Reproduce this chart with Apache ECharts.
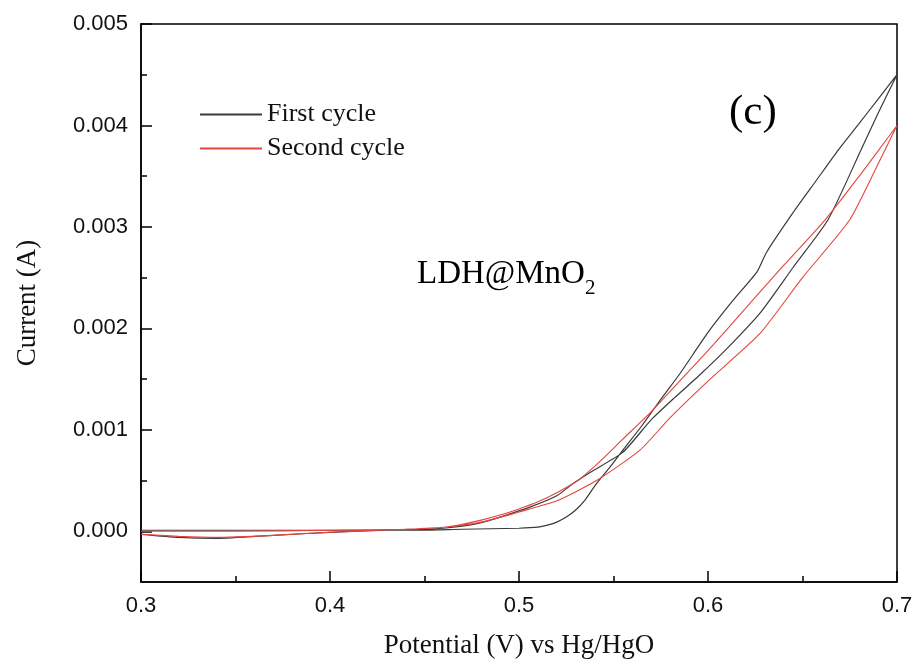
<!DOCTYPE html>
<html>
<head>
<meta charset="utf-8">
<script src="https://cdn.jsdelivr.net/npm/echarts@6/dist/echarts.min.js"></script>
<style>
  html, body { margin: 0; padding: 0; background: #fff; }
  #chart { width: 912px; height: 661px; }
</style>
</head>
<body>
<div id="chart"></div>
<script>
// first cycle: forward sweep then reverse sweep
const firstFwdV = [0.30, 0.33, 0.36, 0.40, 0.44, 0.47, 0.50, 0.51, 0.515, 0.52, 0.525, 0.53, 0.535, 0.541, 0.548, 0.555, 0.565, 0.575, 0.585, 0.60, 0.613, 0.626, 0.631, 0.645, 0.657, 0.669, 0.68, 0.69, 0.70]
const firstFwdI = [0.00001, 0.00001, 0.00001, 0.00001, 0.00001, 0.00002, 0.00003, 0.00004, 0.00006, 0.00009, 0.00014, 0.00021, 0.00031, 0.00047, 0.00063, 0.0008, 0.00104, 0.0013, 0.00155, 0.00196, 0.00227, 0.00256, 0.00275, 0.00314, 0.00345, 0.00376, 0.00402, 0.00426, 0.0045]
const firstRevV = [0.70, 0.69, 0.681, 0.6635, 0.645, 0.6275, 0.61, 0.595, 0.5825, 0.57, 0.555, 0.5376, 0.5286, 0.52, 0.506, 0.49, 0.479, 0.47, 0.46, 0.45, 0.43, 0.40, 0.37, 0.34, 0.32, 0.30]
const firstRevI = [0.0045, 0.00412, 0.00376, 0.00307, 0.0026, 0.00215, 0.0018, 0.00153, 0.00132, 0.0011, 0.00078, 0.00058, 0.00047, 0.00035, 0.00024, 0.00014, 0.00008, 0.00005, 0.00003, 0.00002, 0.00001, -0.00001, -0.00004, -0.00007, -0.00006, -0.00003]

// second cycle
const secondFwdV = [0.30, 0.35, 0.40, 0.44, 0.46, 0.47, 0.48, 0.49, 0.50, 0.51, 0.52, 0.5312, 0.54, 0.548, 0.5545, 0.57, 0.585, 0.60, 0.6238, 0.64, 0.662, 0.68, 0.69, 0.70]
const secondFwdI = [0.0, 0.0, 0.00001, 0.00002, 0.00004, 0.00007, 0.00011, 0.00016, 0.00022, 0.00029, 0.00038, 0.0005, 0.00064, 0.00078, 0.0009, 0.00118, 0.00148, 0.00178, 0.00228, 0.00262, 0.00307, 0.0035, 0.00375, 0.004]
const secondRevV = [0.70, 0.69, 0.675, 0.65, 0.6275, 0.60, 0.58, 0.564, 0.541, 0.52, 0.50, 0.48, 0.46, 0.44, 0.40, 0.37, 0.34, 0.32, 0.30]
const secondRevI = [0.004, 0.00362, 0.00307, 0.0025, 0.00195, 0.00148, 0.00112, 0.0008, 0.0005, 0.0003, 0.00019, 0.00009, 0.00004, 0.00002, -0.00001, -0.00004, -0.00006, -0.00005, -0.00003]

const yTickValues = [0, 0.001, 0.002, 0.003, 0.004, 0.005]
const yMinorValues = [0.0005, 0.0015, 0.0025, 0.0035, 0.0045]

const serif = '"Liberation Serif", "DejaVu Serif", serif'
const sans = '"Liberation Sans", Arial, sans-serif'

function pairs(v, i) {
  return v.map((x, k) => [x, i[k]])
}

const chart = echarts.init(document.getElementById('chart'))

chart.setOption({
  animation: false,
  backgroundColor: '#fff',
  grid: {
    left: 141, right: 15, top: 24, bottom: 79,
    outerBoundsMode: 'none',
    show: true, borderColor: '#000', borderWidth: 1.5
  },
  legend: {
    orient: 'vertical',
    left: 195, top: 96,
    icon: 'rect',
    itemWidth: 62, itemHeight: 2, itemGap: 7,
    textStyle: { fontFamily: serif, fontSize: 26, lineHeight: 27, color: '#111' },
    data: ['First cycle', 'Second cycle']
  },
  xAxis: {
    type: 'value',
    min: 0.3, max: 0.7, interval: 0.1,
    name: 'Potential (V) vs Hg/HgO',
    nameLocation: 'middle', nameGap: 50,
    nameTextStyle: { fontFamily: serif, fontSize: 27, color: '#111' },
    axisLine: { onZero: false, lineStyle: { color: '#000', width: 1.5 } },
    axisTick: { inside: true, length: 11, lineStyle: { color: '#000', width: 1.5 } },
    minorTick: { show: true, splitNumber: 2, length: 6, lineStyle: { color: '#000', width: 1.5 } },
    axisLabel: { fontFamily: sans, fontSize: 22, color: '#111', margin: 13,
      formatter: v => v.toFixed(1) },
    splitLine: { show: false }
  },
  yAxis: [{
    type: 'value',
    min: -0.0005, max: 0.005,
    name: 'Current (A)',
    nameLocation: 'middle', nameGap: 100,
    nameTextStyle: { fontFamily: serif, fontSize: 27, color: '#111' },
    axisLine: { onZero: false, lineStyle: { color: '#000', width: 1.5 } },
    axisTick: { inside: true, length: 11, customValues: yTickValues, lineStyle: { color: '#000', width: 1.5 } },
    axisLabel: { fontFamily: sans, fontSize: 22, color: '#111', margin: 13,
      customValues: yTickValues, formatter: v => v.toFixed(3) },
    splitLine: { show: false }
  }, {
    type: 'value',
    position: 'left',
    min: -0.0005, max: 0.005,
    axisLine: { show: false, onZero: false },
    axisTick: { inside: true, length: 6, customValues: yMinorValues, lineStyle: { color: '#000', width: 1.5 } },
    axisLabel: { show: false },
    splitLine: { show: false }
  }],
  series: [{
    name: 'First cycle',
    type: 'line',
    showSymbol: false, symbol: 'none',
    smooth: 0.2,
    color: '#3a3a3a',
    lineStyle: { color: '#3a3a3a', width: 1.2 },
    data: pairs(firstFwdV, firstFwdI).concat(pairs(firstRevV, firstRevI))
  }, {
    name: 'Second cycle',
    type: 'line',
    showSymbol: false, symbol: 'none',
    smooth: 0.2,
    color: '#e5453f',
    lineStyle: { color: '#e5453f', width: 1.1 },
    data: pairs(secondFwdV, secondFwdI).concat(pairs(secondRevV, secondRevI))
  }],
  graphic: [{
    type: 'text',
    left: 729, top: 91,
    style: { text: '(c)', font: '43px ' + serif, fill: '#000' }
  }, {
    type: 'text',
    left: 417, top: 258,
    style: {
      text: '{a|LDH@MnO}{b|2}',
      fill: '#000',
      rich: {
        a: { fontFamily: serif, fontSize: 33, lineHeight: 42, verticalAlign: 'bottom' },
        b: { fontFamily: serif, fontSize: 21, lineHeight: 42, verticalAlign: 'bottom', padding: [0, 0, -8, 0] }
      }
    }
  }]
})
</script>
</body>
</html>
